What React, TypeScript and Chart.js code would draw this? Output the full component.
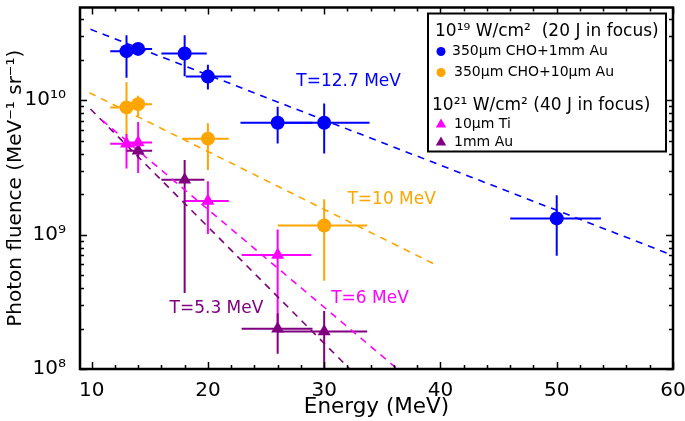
import React, { useEffect, useRef } from 'react';
import { Chart, registerables } from 'chart.js';

Chart.register(...registerables);

const FONT = "'DejaVu Sans', 'Liberation Sans', sans-serif";

// Axes
const X_MIN = 9;
const X_MAX = 60;
const X_TICKS = [10, 20, 30, 40, 50, 60];
const X_MINOR_STEP = 2;
const Y_MIN = 1e8;
const Y_MAX = 4.9e10;
const Y_TICKS = [1e8, 1e9, 1e10];
const Y_TICK_LABELS = ['10⁸', '10⁹', '10¹⁰'];
const X_TITLE = 'Energy (MeV)';
const Y_TITLE = 'Photon fluence (MeV⁻¹ sr⁻¹)';

// 10^19 W/cm2 : 350µm CHO+1mm Au (blue circles)
const CHO_AU1MM_E = [13, 14, 18, 20, 26, 30, 50];
const CHO_AU1MM_Y = [2.32e10, 2.41e10, 2.23e10, 1.5e10, 6.8e9, 6.8e9, 1.32e9];
const CHO_AU1MM_XLO = [11.6, 12.8, 16, 18.1, 22.8, 26, 46];
const CHO_AU1MM_XHI = [14.4, 15.2, 19.9, 22, 29, 33.9, 53.8];
const CHO_AU1MM_YLO = [1.47e10, 2.2e10, 1.51e10, 1.2e10, 4.77e9, 4.02e9, 6.95e8];
const CHO_AU1MM_YHI = [3.04e10, 2.65e10, 3.04e10, 1.84e10, 8.93e9, 9.47e9, 1.96e9];

// 10^19 W/cm2 : 350µm CHO+10µm Au (orange circles)
const CHO_AU10_E = [13, 14, 20, 30];
const CHO_AU10_Y = [8.85e9, 9.35e9, 5.18e9, 1.17e9];
const CHO_AU10_XLO = [11.6, 12.8, 17.8, 26];
const CHO_AU10_XHI = [14.4, 15.2, 21.8, 33.7];
const CHO_AU10_YLO = [5.0e9, 7.65e9, 3.03e9, 4.54e8];
const CHO_AU10_YHI = [1.36e10, 1.08e10, 6.75e9, 1.83e9];

// 10^21 W/cm2 : 10µm Ti (magenta triangles)
const TI_E = [13, 14, 20, 26];
const TI_Y = [4.75e9, 4.85e9, 1.78e9, 7.05e8];
const TI_XLO = [11.6, 12.8, 17.9, 22.9];
const TI_XHI = [14.4, 15.2, 21.8, 28.9];
const TI_YLO = [3.1e9, 2.87e9, 1.01e9, 2.1e8];
const TI_YHI = [5.6e9, 6.9e9, 2.5e9, 1.09e9];

// 10^21 W/cm2 : 1mm Au (purple triangles)
const AU_E = [14, 18, 26, 30];
const AU_Y = [4.2e9, 2.56e9, 1.99e8, 1.9e8];
const AU_XLO = [13.0, 16, 22.9, 26];
const AU_XHI = [15.2, 19.7, 29, 33.7];
const AU_YLO = [3.7e9, 3.68e8, 1.3e8, 5e7];
const AU_YHI = [4.6e9, 3.59e9, 2.6e8, 2.7e8];

// Exponential fits (dashed), endpoints
const FIT_BLUE_E = [9.9, 60];
const FIT_BLUE_Y = [3.37e10, 7.0e8];
const FIT_ORANGE_E = [9.8, 39.7];
const FIT_ORANGE_Y = [1.14e10, 5.9e8];
const FIT_MAGENTA_E = [10.9, 36.3];
const FIT_MAGENTA_Y = [7.1e9, 1.0e8];
const FIT_PURPLE_E = [9.9, 32.2];
const FIT_PURPLE_Y = [8.6e9, 1.0e8];

const FIT_LABELS = ['T=12.7 MeV', 'T=10 MeV', 'T=6 MeV', 'T=5.3 MeV'];
const FIT_LABEL_E = [27.6, 32.0, 30.6, 16.7];
const FIT_LABEL_Y = [1.38e10, 1.82e9, 3.37e8, 2.84e8];

const BLUE = '#0000ff';
const ORANGE = '#ffa500';
const MAGENTA = '#ff00ff';
const PURPLE = '#800080';
const FIT_LABEL_COLORS = [BLUE, ORANGE, MAGENTA, PURPLE];

const LEGEND_HEAD_1 = '10¹⁹ W/cm²  (20 J in focus)';
const LEGEND_HEAD_2 = '10²¹ W/cm² (40 J in focus)';
const LEGEND_NAMES = ['350µm CHO+1mm Au', '350µm CHO+10µm Au', '10µm Ti', '1mm Au'];

const SERIES = [
  { e: CHO_AU1MM_E, y: CHO_AU1MM_Y, xlo: CHO_AU1MM_XLO, xhi: CHO_AU1MM_XHI, ylo: CHO_AU1MM_YLO, yhi: CHO_AU1MM_YHI, color: BLUE, style: 'circle' },
  { e: CHO_AU10_E, y: CHO_AU10_Y, xlo: CHO_AU10_XLO, xhi: CHO_AU10_XHI, ylo: CHO_AU10_YLO, yhi: CHO_AU10_YHI, color: ORANGE, style: 'circle' },
  { e: TI_E, y: TI_Y, xlo: TI_XLO, xhi: TI_XHI, ylo: TI_YLO, yhi: TI_YHI, color: MAGENTA, style: 'triangle' },
  { e: AU_E, y: AU_Y, xlo: AU_XLO, xhi: AU_XHI, ylo: AU_YLO, yhi: AU_YHI, color: PURPLE, style: 'triangle' },
];

const pts = (xs: number[], ys: number[]) => xs.map((x, i) => ({ x, y: ys[i] }));

const markerDataset = (s: any) => ({
  type: 'scatter' as const,
  data: pts(s.e, s.y),
  pointStyle: s.style,
  pointRadius: s.style === 'circle' ? 7 : 7.5,
  backgroundColor: s.color,
  borderColor: s.color,
  borderWidth: 0,
  showLine: false,
});

const fitDataset = (xs: number[], ys: number[], color: string) => ({
  type: 'scatter' as const,
  data: pts(xs, ys),
  showLine: true,
  borderColor: color,
  borderWidth: 1.6,
  borderDash: [7, 6],
  pointRadius: 0,
  fill: false,
});

const errorBarPlugin = {
  id: 'errorBars',
  beforeDatasetsDraw(chart: any) {
    const { ctx, chartArea, scales } = chart;
    const xs = scales.x;
    const ys = scales.y;
    ctx.save();
    ctx.beginPath();
    ctx.rect(chartArea.left, chartArea.top, chartArea.right - chartArea.left, chartArea.bottom - chartArea.top);
    ctx.clip();
    ctx.lineWidth = 2;
    for (const s of SERIES) {
      ctx.strokeStyle = s.color;
      for (let i = 0; i < s.e.length; i++) {
        const px = xs.getPixelForValue(s.e[i]);
        const py = ys.getPixelForValue(s.y[i]);
        ctx.beginPath();
        ctx.moveTo(xs.getPixelForValue(s.xlo[i]), py);
        ctx.lineTo(xs.getPixelForValue(s.xhi[i]), py);
        ctx.moveTo(px, ys.getPixelForValue(s.ylo[i]));
        ctx.lineTo(px, ys.getPixelForValue(s.yhi[i]));
        ctx.stroke();
      }
    }
    ctx.restore();
  },
};

const frameAndLabelsPlugin = {
  id: 'frameAndLabels',
  afterDatasetsDraw(chart: any) {
    const { ctx, chartArea, scales } = chart;
    const { left, right, top, bottom } = chartArea;
    const xs = scales.x;
    const ys = scales.y;

    // fit annotations
    ctx.save();
    ctx.font = `17px ${FONT}`;
    ctx.textAlign = 'left';
    ctx.textBaseline = 'middle';
    FIT_LABELS.forEach((t, i) => {
      ctx.fillStyle = FIT_LABEL_COLORS[i];
      ctx.fillText(t, xs.getPixelForValue(FIT_LABEL_E[i]), ys.getPixelForValue(FIT_LABEL_Y[i]));
    });
    ctx.restore();

    // ticks
    ctx.save();
    ctx.strokeStyle = '#000';
    ctx.lineWidth = 1.5;
    ctx.beginPath();
    for (let v = X_TICKS[0]; v <= X_MAX + 1e-9; v += X_MINOR_STEP) {
      const px = Math.round(xs.getPixelForValue(v)) + 0.5;
      const major = X_TICKS.includes(Math.round(v));
      const len = major ? 7 : 4;
      ctx.moveTo(px, bottom);
      ctx.lineTo(px, bottom - len);
      ctx.moveTo(px, top);
      ctx.lineTo(px, top + len);
    }
    for (const dec of Y_TICKS) {
      for (let m = 1; m <= 9; m++) {
        const v = dec * m;
        if (v < Y_MIN || v > Y_MAX) continue;
        const py = Math.round(ys.getPixelForValue(v)) + 0.5;
        const len = m === 1 ? 7 : 4;
        ctx.moveTo(left, py);
        ctx.lineTo(left + len, py);
        ctx.moveTo(right, py);
        ctx.lineTo(right - len, py);
      }
    }
    ctx.stroke();
    ctx.lineWidth = 2.5;
    ctx.strokeRect(left, top, right - left, bottom - top);
    ctx.restore();

    // legend
    const bx = right - 245;
    const by = top + 6;
    const bw = 238;
    const bh = 138;
    ctx.save();
    ctx.fillStyle = '#fff';
    ctx.fillRect(bx, by, bw, bh);
    ctx.strokeStyle = '#000';
    ctx.lineWidth = 2;
    ctx.strokeRect(bx, by, bw, bh);
    ctx.fillStyle = '#000';
    ctx.textAlign = 'left';
    ctx.textBaseline = 'middle';
    ctx.font = `17px ${FONT}`;
    ctx.fillText(LEGEND_HEAD_1, bx + 7, by + 18);
    ctx.fillText(LEGEND_HEAD_2, bx + 4, by + 92);
    ctx.font = `14px ${FONT}`;
    const rows = [by + 38, by + 59, by + 111, by + 129];
    const colors = [BLUE, ORANGE, MAGENTA, PURPLE];
    rows.forEach((ry, i) => {
      ctx.fillStyle = colors[i];
      const mx = bx + 13;
      if (i < 2) {
        ctx.beginPath();
        ctx.arc(mx, ry, 4.5, 0, Math.PI * 2);
        ctx.fill();
      } else {
        const r = 6;
        ctx.beginPath();
        ctx.moveTo(mx, ry - r);
        ctx.lineTo(mx + r * 0.866, ry + r * 0.5);
        ctx.lineTo(mx - r * 0.866, ry + r * 0.5);
        ctx.closePath();
        ctx.fill();
      }
      ctx.fillStyle = '#000';
      ctx.fillText(LEGEND_NAMES[i], bx + (i === 0 ? 24 : 26), ry);
    });
    ctx.restore();
  },
};

export default function App() {
  const ref = useRef<HTMLCanvasElement>(null);
  useEffect(() => {
    const chart = new Chart(ref.current as HTMLCanvasElement, {
      type: 'scatter',
      data: {
        datasets: [
          markerDataset(SERIES[2]),
          markerDataset(SERIES[3]),
          markerDataset(SERIES[0]),
          markerDataset(SERIES[1]),
          fitDataset(FIT_BLUE_E, FIT_BLUE_Y, BLUE),
          fitDataset(FIT_ORANGE_E, FIT_ORANGE_Y, ORANGE),
          fitDataset(FIT_MAGENTA_E, FIT_MAGENTA_Y, MAGENTA),
          fitDataset(FIT_PURPLE_E, FIT_PURPLE_Y, PURPLE),
        ] as any,
      },
      options: {
        animation: false,
        responsive: true,
        maintainAspectRatio: false,
        layout: { padding: { left: 0, right: 12, top: 2, bottom: 0 } },
        plugins: { legend: { display: false }, tooltip: { enabled: false } },
        scales: {
          x: {
            type: 'linear',
            min: X_MIN,
            max: X_MAX,
            grid: { display: false },
            border: { display: false },
            afterBuildTicks: (s: any) => {
              s.ticks = X_TICKS.map((v) => ({ value: v }));
            },
            afterFit: (s: any) => {
              s.height = 52;
              s.paddingLeft = 0;
              s.paddingRight = 0;
            },
            ticks: { color: '#000', font: { family: FONT, size: 20 }, padding: 2, maxRotation: 0 },
            title: { display: true, text: X_TITLE, color: '#000', font: { family: FONT, size: 21.5 }, padding: { top: 1, bottom: 1 } },
          },
          y: {
            type: 'logarithmic',
            min: Y_MIN,
            max: Y_MAX,
            grid: { display: false },
            border: { display: false },
            afterBuildTicks: (s: any) => {
              s.ticks = Y_TICKS.map((v) => ({ value: v }));
            },
            afterFit: (s: any) => {
              s.width = 80;
              s.paddingTop = 0;
              s.paddingBottom = 0;
            },
            ticks: {
              color: '#000',
              font: { family: FONT, size: 20 },
              padding: 6,
              callback: (v: any) => {
                const i = Y_TICKS.findIndex((t) => Math.abs(t - v) / t < 1e-6);
                return i >= 0 ? Y_TICK_LABELS[i] : '';
              },
            },
            title: { display: true, text: Y_TITLE, color: '#000', font: { family: FONT, size: 20 }, padding: { top: 4, bottom: 4 } },
          },
        },
      } as any,
      plugins: [errorBarPlugin, frameAndLabelsPlugin],
    });
    return () => chart.destroy();
  }, []);
  return (
    <div style={{ position: 'absolute', left: 0, top: 0, width: 685, height: 421 }}>
      <canvas ref={ref} />
    </div>
  );
}
